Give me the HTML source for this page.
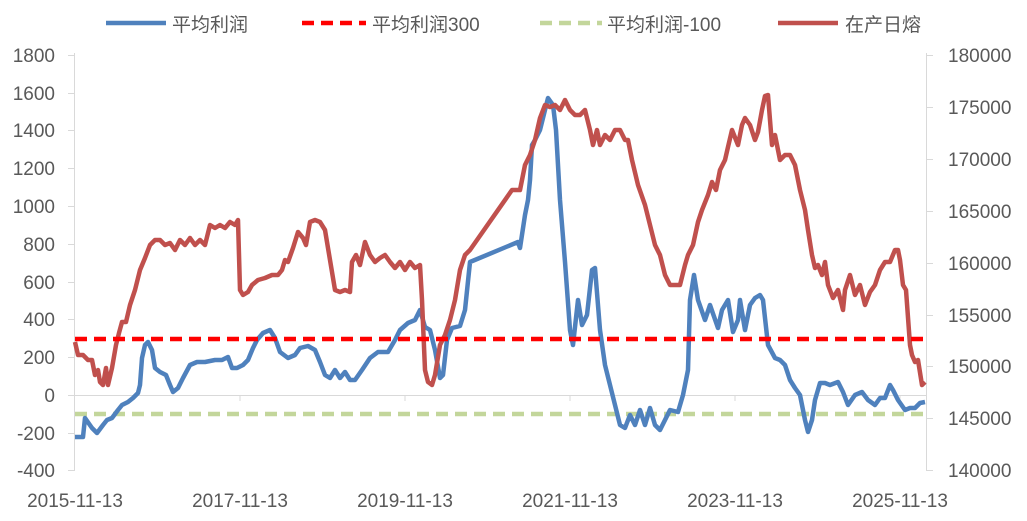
<!DOCTYPE html><html><head><meta charset="utf-8"><style>body{margin:0;background:#fff}svg{display:block}text{font-family:"Liberation Sans","Noto Sans CJK SC",sans-serif;fill:#595959;font-size:19px}</style></head><body>
<svg width="1027" height="521" viewBox="0 0 1027 521">
<g stroke="#d9d9d9" stroke-width="1">
<line x1="74.5" y1="53" x2="74.5" y2="471"/><line x1="926.5" y1="53" x2="926.5" y2="471"/>
<line x1="74" y1="395.5" x2="926" y2="395.5"/>
<line x1="68" y1="55.5" x2="74" y2="55.5"/><line x1="68" y1="93.5" x2="74" y2="93.5"/><line x1="68" y1="130.5" x2="74" y2="130.5"/><line x1="68" y1="168.5" x2="74" y2="168.5"/><line x1="68" y1="206.5" x2="74" y2="206.5"/><line x1="68" y1="244.5" x2="74" y2="244.5"/><line x1="68" y1="282.5" x2="74" y2="282.5"/><line x1="68" y1="319.5" x2="74" y2="319.5"/><line x1="68" y1="357.5" x2="74" y2="357.5"/><line x1="68" y1="395.5" x2="74" y2="395.5"/><line x1="68" y1="433.5" x2="74" y2="433.5"/><line x1="68" y1="470.5" x2="74" y2="470.5"/>
<line x1="926" y1="55.5" x2="933" y2="55.5"/><line x1="926" y1="107.5" x2="933" y2="107.5"/><line x1="926" y1="159.5" x2="933" y2="159.5"/><line x1="926" y1="211.5" x2="933" y2="211.5"/><line x1="926" y1="263.5" x2="933" y2="263.5"/><line x1="926" y1="315.5" x2="933" y2="315.5"/><line x1="926" y1="366.5" x2="933" y2="366.5"/><line x1="926" y1="418.5" x2="933" y2="418.5"/><line x1="926" y1="470.5" x2="933" y2="470.5"/>
<line x1="240" y1="395" x2="240" y2="401"/><line x1="405" y1="395" x2="405" y2="401"/><line x1="570" y1="395" x2="570" y2="401"/><line x1="735" y1="395" x2="735" y2="401"/><line x1="900" y1="395" x2="900" y2="401"/>
</g>
<g text-anchor="end">
<text x="55" y="62">1800</text><text x="55" y="100">1600</text><text x="55" y="137">1400</text><text x="55" y="175">1200</text><text x="55" y="213">1000</text><text x="55" y="251">800</text><text x="55" y="289">600</text><text x="55" y="326">400</text><text x="55" y="364">200</text><text x="55" y="402">0</text><text x="55" y="440">-200</text><text x="55" y="477">-400</text>
</g>
<g>
<text x="948" y="62">180000</text><text x="948" y="114">175000</text><text x="948" y="166">170000</text><text x="948" y="218">165000</text><text x="948" y="270">160000</text><text x="948" y="322">155000</text><text x="948" y="373">150000</text><text x="948" y="425">145000</text><text x="948" y="477">140000</text>
</g>
<g text-anchor="middle" style="font-size:20px">
<text x="75" y="507">2015-11-13</text><text x="240" y="507">2017-11-13</text><text x="405" y="507">2019-11-13</text><text x="570" y="507">2021-11-13</text><text x="735" y="507">2023-11-13</text><text x="900" y="507">2025-11-13</text>
</g>
<line x1="75" y1="414" x2="925" y2="414" stroke="#c3d69b" stroke-width="4.5" stroke-dasharray="12,7"/>
<polyline fill="none" stroke="#4f81bd" stroke-width="4.5" stroke-linejoin="round" points="75,437 83,437 85,418 92,428 97,433 103,425 107,420 112,418 118,410 122,405 128,402 133,398 138,393 140,385 142,358 145,345 148,342 152,350 155,368 160,372 166,375 170,385 173,392 178,388 183,378 190,365 197,362 205,362 215,360 222,360 228,357 232,368 237,368 243,365 248,360 253,348 257,340 263,333 270,330 275,338 280,352 288,358 295,355 300,348 308,346 315,350 320,362 325,375 330,378 335,370 340,378 345,372 350,380 355,380 362,370 370,358 378,352 388,352 395,340 400,330 408,323 415,320 420,310 425,327 430,330 435,350 440,378 443,375 447,340 452,328 460,326 465,310 470,262 518,242 520,248 525,215 528,200 530,180 532,145 535,140 540,130 545,110 548,98 553,105 556,130 560,200 565,262 570,330 573,345 578,300 582,325 587,315 592,270 595,268 600,330 605,365 610,385 615,405 620,425 625,428 630,415 635,425 640,410 645,425 650,408 655,425 660,430 665,420 670,410 678,412 683,395 688,370 690,300 694,275 698,300 705,320 710,305 718,328 722,310 728,300 733,332 738,320 740,300 745,330 750,305 755,298 760,295 763,300 768,345 775,358 780,360 785,365 790,380 795,388 800,395 805,420 808,432 812,420 815,400 820,383 825,383 830,385 838,382 843,392 848,405 855,395 862,392 868,400 875,405 880,398 885,398 890,385 893,390 898,400 905,410 910,408 915,408 920,403 925,402"/>
<polyline fill="none" stroke="#c0504d" stroke-width="4.5" stroke-linejoin="round" points="75,342 78,355 83,355 88,360 92,360 95,375 98,370 100,382 103,385 106,368 108,385 112,368 116,345 119,333 122,322 126,322 130,305 135,290 140,270 145,258 150,245 155,240 160,240 165,245 170,243 175,250 180,240 185,245 190,238 195,245 200,240 205,245 210,225 215,228 220,225 225,228 230,222 235,225 238,220 240,290 243,295 248,292 252,285 258,280 265,278 272,275 278,275 282,270 285,260 288,262 293,248 298,232 303,238 306,245 310,222 315,220 320,222 325,230 330,260 335,290 340,292 345,290 350,292 352,262 356,255 360,265 365,242 370,255 375,262 380,258 385,255 390,262 395,268 400,262 405,270 410,262 415,268 420,265 422,300 425,370 428,382 432,385 435,375 440,345 445,335 450,320 455,300 460,270 465,255 470,250 512,190 520,190 525,165 530,155 535,140 540,118 545,105 550,107 555,105 560,110 565,100 570,110 575,115 580,115 585,110 590,130 593,145 597,130 600,145 605,135 610,140 615,130 620,130 625,140 628,140 632,160 638,185 645,205 650,225 655,245 660,255 665,275 670,285 675,285 680,285 685,265 688,255 693,245 698,222 702,210 708,195 712,182 716,190 720,170 725,160 728,147 732,130 738,145 742,125 745,118 750,125 755,140 758,132 762,110 765,96 768,95 772,145 775,135 780,160 785,155 790,155 795,165 800,190 805,210 808,230 812,255 815,268 818,265 822,275 825,262 828,285 833,298 838,290 843,310 845,290 850,275 855,295 860,285 865,305 870,292 875,285 880,270 885,262 890,262 895,250 898,250 900,260 903,285 906,290 910,345 912,355 915,362 918,360 922,385 925,382"/>
<line x1="75" y1="339" x2="925" y2="339" stroke="#ff0000" stroke-width="4.5" stroke-dasharray="12,7"/>
<g style="font-size:21px">
<line x1="106" y1="23" x2="166" y2="23" stroke="#4f81bd" stroke-width="4.5"/><text x="172" y="31">平均利润</text>
<line x1="302" y1="23" x2="366" y2="23" stroke="#ff0000" stroke-width="4.5" stroke-dasharray="12,7"/><text x="372" y="31">平均利润300</text>
<line x1="540" y1="23" x2="602" y2="23" stroke="#c3d69b" stroke-width="4.5" stroke-dasharray="12,7"/><text x="607" y="31">平均利润-100</text>
<line x1="778" y1="23" x2="838" y2="23" stroke="#c0504d" stroke-width="4.5"/><text x="845" y="31">在产日熔</text>
</g>
</svg></body></html>
